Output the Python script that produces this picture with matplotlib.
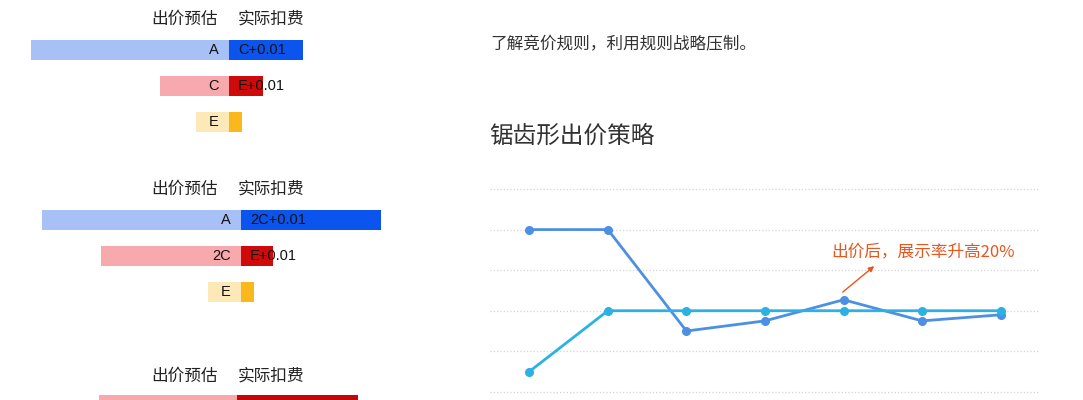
import matplotlib
matplotlib.use("Agg")
import matplotlib.pyplot as plt

plt.rcParams['font.family'] = ['Noto Sans CJK SC', 'DejaVu Sans']

# left panel: bid estimate vs actual charge, three scenarios
head_est = "出价预估"
head_act = "实际扣费"

g1_est = [198, 69, 33]
g1_act = [74, 34, 13]
g1_lab_est = ["A", "C", "E"]
g1_lab_act = ["C+0.01", "E+0.01", ""]

g2_est = [199, 140, 33]
g2_act = [140, 32, 13]
g2_lab_est = ["A", "2C", "E"]
g2_lab_act = ["2C+0.01", "E+0.01", ""]

g3_est = [138]
g3_act = [121]

light_cols = ["#a7c0f6", "#f8a9ae", "#fde8b7"]
dark_cols = ["#0b54ee", "#cf0a0a", "#fbb81d"]
g3_light = ["#f8a9ae"]
g3_dark = ["#c40606"]

# right panel: line chart
intro_text = "了解竞价规则，利用规则战略压制。"
chart_title = "锯齿形出价策略"
note_text = "出价后，展示率升高20%"
x_pts = [0, 1, 2, 3, 4, 5, 6]
bid_line = [4.0, 4.0, 1.5, 1.75, 2.27, 1.75, 1.9]
show_line = [0.5, 2.0, 2.0, 2.0, 2.0, 2.0, 2.0]
base_line = [-0.32, -0.32, -0.32, -0.32, -0.32, -0.32, -0.32]

W, H = 1083, 400
fig = plt.figure(figsize=(W / 100, H / 100), dpi=100)


def fx(px):
    return px / W


def fy(py):
    return 1 - py / H


def bar_group(top, center, est, act, lcols, dcols, lab_est=None, lab_act=None):
    n = 3
    ax = fig.add_axes([0, fy(top + 36 * n), 480 / W, 36 * n / H])
    rows = list(range(len(est)))
    ax.barh(rows, [-v for v in est], height=0.58, color=lcols, linewidth=0)
    ax.barh(rows, act, height=0.58, color=dcols, linewidth=0)
    if lab_est:
        for r, t in zip(rows, lab_est):
            ax.text(-10, r, t, ha="right", va="center", fontsize=10.5,
                    family="Liberation Sans", color="#111")
    if lab_act:
        for r, t in zip(rows, lab_act):
            ax.text(9, r, t, ha="left", va="center", fontsize=10.5,
                    family="Liberation Sans", color="#111")
    ax.set_xlim(-center, 480 - center)
    ax.set_ylim(n - 0.5, -0.5)
    ax.axis("off")
    return ax


def headers(py):
    fig.text(fx(218), fy(py), head_est, ha="right", va="center",
             fontsize=12, color="#222")
    fig.text(fx(238), fy(py), head_act, ha="left", va="center",
             fontsize=12, color="#222")


headers(19)
bar_group(32, 229, g1_est, g1_act, light_cols, dark_cols, g1_lab_est, g1_lab_act)
headers(189)
bar_group(202, 241, g2_est, g2_act, light_cols, dark_cols, g2_lab_est, g2_lab_act)
headers(376)
bar_group(387, 237, g3_est, g3_act, g3_light, g3_dark)

# right side texts
fig.text(fx(490), fy(45), intro_text, ha="left", va="center",
         fontsize=12, color="#333")
fig.text(fx(489), fy(136), chart_title, ha="left", va="center",
         fontsize=17, color="#333")

# line chart
ax = fig.add_axes([fx(490), fy(400), 550 / W, 220 / H])
ax.plot(x_pts, base_line, color="#36c6bd", lw=1.8, marker="o", ms=5.5)
ax.plot(x_pts, bid_line, color="#4d8fe2", lw=2, marker="o", ms=5.5)
ax.plot(x_pts, show_line, color="#2bb1e4", lw=2, marker="o", ms=5.5)
ax.set_xlim(-0.5, 6.5)
ax.set_ylim(-0.2, (392 - 180) / 40.6)
ax.set_yticks([0, 1, 2, 3, 4, 5])
ax.grid(axis="y", color="#d4d4d4", linestyle=":", linewidth=0.9)
ax.set_axisbelow(True)
ax.tick_params(left=False, bottom=False, labelleft=False, labelbottom=False)
for s in ax.spines.values():
    s.set_visible(False)

ax.annotate("", xy=(4.39, 3.1), xytext=(3.99, 2.46),
            arrowprops=dict(arrowstyle="-|>", color="#e8561e", lw=1,
                            mutation_scale=8, shrinkA=0, shrinkB=0))
ax.text(3.84, 3.42, note_text, ha="left", va="center", fontsize=12,
        color="#e8561e")

fig.savefig("out.png", dpi=100)
